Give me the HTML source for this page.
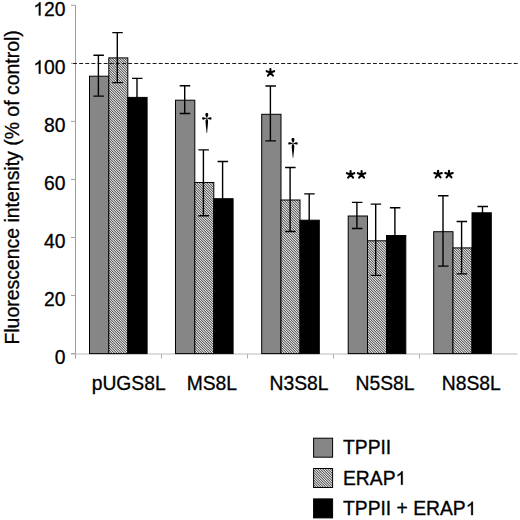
<!DOCTYPE html>
<html><head><meta charset="utf-8"><style>
html,body{margin:0;padding:0;background:#fff;width:520px;height:520px;overflow:hidden}
svg{display:block;font-family:"Liberation Sans",sans-serif}
text{stroke:#000;stroke-width:0.3px}
</style></head><body>
<svg width="520" height="520" viewBox="0 0 520 520">
<defs>
<linearGradient id="stemg" x1="0" y1="0" x2="0" y2="1"><stop offset="0" stop-color="#000"/><stop offset="0.55" stop-color="#000"/><stop offset="1" stop-color="#444"/></linearGradient>
<pattern id="hatch" patternUnits="userSpaceOnUse" width="5" height="5" shape-rendering="crispEdges"><rect x="0" y="0" width="1" height="1" fill="rgb(234,234,234)"/><rect x="1" y="0" width="1" height="1" fill="rgb(100,100,100)"/><rect x="2" y="0" width="1" height="1" fill="rgb(183,183,183)"/><rect x="3" y="0" width="1" height="1" fill="rgb(183,183,183)"/><rect x="4" y="0" width="1" height="1" fill="rgb(100,100,100)"/><rect x="0" y="1" width="1" height="1" fill="rgb(100,100,100)"/><rect x="1" y="1" width="1" height="1" fill="rgb(234,234,234)"/><rect x="2" y="1" width="1" height="1" fill="rgb(100,100,100)"/><rect x="3" y="1" width="1" height="1" fill="rgb(183,183,183)"/><rect x="4" y="1" width="1" height="1" fill="rgb(183,183,183)"/><rect x="0" y="2" width="1" height="1" fill="rgb(183,183,183)"/><rect x="1" y="2" width="1" height="1" fill="rgb(100,100,100)"/><rect x="2" y="2" width="1" height="1" fill="rgb(234,234,234)"/><rect x="3" y="2" width="1" height="1" fill="rgb(100,100,100)"/><rect x="4" y="2" width="1" height="1" fill="rgb(183,183,183)"/><rect x="0" y="3" width="1" height="1" fill="rgb(183,183,183)"/><rect x="1" y="3" width="1" height="1" fill="rgb(183,183,183)"/><rect x="2" y="3" width="1" height="1" fill="rgb(100,100,100)"/><rect x="3" y="3" width="1" height="1" fill="rgb(234,234,234)"/><rect x="4" y="3" width="1" height="1" fill="rgb(100,100,100)"/><rect x="0" y="4" width="1" height="1" fill="rgb(100,100,100)"/><rect x="1" y="4" width="1" height="1" fill="rgb(183,183,183)"/><rect x="2" y="4" width="1" height="1" fill="rgb(183,183,183)"/><rect x="3" y="4" width="1" height="1" fill="rgb(100,100,100)"/><rect x="4" y="4" width="1" height="1" fill="rgb(234,234,234)"/></pattern>
</defs>
<rect width="520" height="520" fill="#fff"/>

<line x1="75.5" y1="5" x2="75.5" y2="358.5" stroke="#a0a0a0" stroke-width="1"/>
<line x1="71" y1="354" x2="517.5" y2="354" stroke="#bbbbbb" stroke-width="1"/>
<line x1="161.5" y1="354" x2="161.5" y2="358.5" stroke="#b0b0b0" stroke-width="1"/>
<line x1="247.5" y1="354" x2="247.5" y2="358.5" stroke="#b0b0b0" stroke-width="1"/>
<line x1="333.5" y1="354" x2="333.5" y2="358.5" stroke="#b0b0b0" stroke-width="1"/>
<line x1="419.5" y1="354" x2="419.5" y2="358.5" stroke="#b0b0b0" stroke-width="1"/>
<line x1="71" y1="353.60" x2="75.5" y2="353.60" stroke="#a0a0a0" stroke-width="1"/>
<text class="t1" x="65.5" y="363.90" font-size="19.3" text-anchor="end" fill="#000">0</text>
<line x1="71" y1="295.55" x2="75.5" y2="295.55" stroke="#a0a0a0" stroke-width="1"/>
<text class="t1" x="65.5" y="305.85" font-size="19.3" text-anchor="end" fill="#000">20</text>
<line x1="71" y1="237.50" x2="75.5" y2="237.50" stroke="#a0a0a0" stroke-width="1"/>
<text class="t1" x="65.5" y="247.80" font-size="19.3" text-anchor="end" fill="#000">40</text>
<line x1="71" y1="179.45" x2="75.5" y2="179.45" stroke="#a0a0a0" stroke-width="1"/>
<text class="t1" x="65.5" y="189.75" font-size="19.3" text-anchor="end" fill="#000">60</text>
<line x1="71" y1="121.40" x2="75.5" y2="121.40" stroke="#a0a0a0" stroke-width="1"/>
<text class="t1" x="65.5" y="131.70" font-size="19.3" text-anchor="end" fill="#000">80</text>
<line x1="71" y1="63.35" x2="75.5" y2="63.35" stroke="#a0a0a0" stroke-width="1"/>
<text class="t1" x="65.5" y="73.65" font-size="19.3" text-anchor="end" fill="#000"><tspan fill="transparent" stroke="none">1</tspan>00</text>
<line x1="71" y1="5.30" x2="75.5" y2="5.30" stroke="#a0a0a0" stroke-width="1"/>
<text class="t1" x="65.5" y="15.60" font-size="19.3" text-anchor="end" fill="#000"><tspan fill="transparent" stroke="none">1</tspan>20</text>
<rect x="89.50" y="76.20" width="19.30" height="277.40" fill="#868686" stroke="#000" stroke-width="1"/>
<rect x="108.80" y="57.90" width="19.00" height="295.70" fill="url(#hatch)" stroke="#000" stroke-width="1"/>
<rect x="127.80" y="97.40" width="19.30" height="256.20" fill="#000" stroke="#000" stroke-width="1"/>
<rect x="175.50" y="100.20" width="19.30" height="253.40" fill="#868686" stroke="#000" stroke-width="1"/>
<rect x="194.80" y="182.50" width="19.00" height="171.10" fill="url(#hatch)" stroke="#000" stroke-width="1"/>
<rect x="213.80" y="198.70" width="19.30" height="154.90" fill="#000" stroke="#000" stroke-width="1"/>
<rect x="261.70" y="114.30" width="19.30" height="239.30" fill="#868686" stroke="#000" stroke-width="1"/>
<rect x="281.00" y="200.00" width="19.00" height="153.60" fill="url(#hatch)" stroke="#000" stroke-width="1"/>
<rect x="300.00" y="220.20" width="19.30" height="133.40" fill="#000" stroke="#000" stroke-width="1"/>
<rect x="348.20" y="216.00" width="19.30" height="137.60" fill="#868686" stroke="#000" stroke-width="1"/>
<rect x="367.50" y="240.80" width="19.00" height="112.80" fill="url(#hatch)" stroke="#000" stroke-width="1"/>
<rect x="386.50" y="235.50" width="19.30" height="118.10" fill="#000" stroke="#000" stroke-width="1"/>
<rect x="433.70" y="231.70" width="19.30" height="121.90" fill="#868686" stroke="#000" stroke-width="1"/>
<rect x="453.00" y="247.90" width="19.00" height="105.70" fill="url(#hatch)" stroke="#000" stroke-width="1"/>
<rect x="472.00" y="212.80" width="19.30" height="140.80" fill="#000" stroke="#000" stroke-width="1"/>
<line x1="73.08" y1="63.5" x2="518" y2="63.5" stroke="#1a1a1a" stroke-width="1.1" stroke-dasharray="3.9 2.22"/>
<path d="M98.40,55.25 V96.15 M93.40,55.25 H103.90 M93.40,96.15 H103.90" stroke="#000" stroke-width="1.4" fill="none"/>
<path d="M117.30,32.65 V82.65 M112.30,32.65 H122.80 M112.30,82.65 H122.80" stroke="#000" stroke-width="1.4" fill="none"/>
<path d="M137.00,78.35 V116.15 M132.00,78.35 H142.50 M132.00,116.15 H142.50" stroke="#000" stroke-width="1.4" fill="none"/>
<path d="M184.70,85.75 V113.45 M179.70,85.75 H190.20 M179.70,113.45 H190.20" stroke="#000" stroke-width="1.4" fill="none"/>
<path d="M203.40,149.85 V215.75 M198.40,149.85 H208.90 M198.40,215.75 H208.90" stroke="#000" stroke-width="1.4" fill="none"/>
<path d="M222.60,161.45 V235.65 M217.60,161.45 H228.10 M217.60,235.65 H228.10" stroke="#000" stroke-width="1.4" fill="none"/>
<path d="M270.40,86.05 V140.85 M265.40,86.05 H275.90 M265.40,140.85 H275.90" stroke="#000" stroke-width="1.4" fill="none"/>
<path d="M290.10,167.55 V231.55 M285.10,167.55 H295.60 M285.10,231.55 H295.60" stroke="#000" stroke-width="1.4" fill="none"/>
<path d="M309.20,193.85 V246.25 M304.20,193.85 H314.70 M304.20,246.25 H314.70" stroke="#000" stroke-width="1.4" fill="none"/>
<path d="M356.90,202.35 V228.55 M351.90,202.35 H362.40 M351.90,228.55 H362.40" stroke="#000" stroke-width="1.4" fill="none"/>
<path d="M375.70,204.15 V275.35 M370.70,204.15 H381.20 M370.70,275.35 H381.20" stroke="#000" stroke-width="1.4" fill="none"/>
<path d="M394.90,207.75 V262.95 M389.90,207.75 H400.40 M389.90,262.95 H400.40" stroke="#000" stroke-width="1.4" fill="none"/>
<path d="M443.00,195.75 V266.15 M438.00,195.75 H448.50 M438.00,266.15 H448.50" stroke="#000" stroke-width="1.4" fill="none"/>
<path d="M461.60,221.45 V273.85 M456.60,221.45 H467.10 M456.60,273.85 H467.10" stroke="#000" stroke-width="1.4" fill="none"/>
<path d="M482.50,206.55 V218.75 M477.50,206.55 H488.00 M477.50,218.75 H488.00" stroke="#000" stroke-width="1.4" fill="none"/>
<text x="128.70" y="389.8" font-size="19.3" text-anchor="middle">pUGS8L</text>
<text x="211.85" y="389.8" font-size="19.3" text-anchor="middle">MS8L</text>
<text x="299.00" y="389.8" font-size="19.3" text-anchor="middle">N3S8L</text>
<text x="385.10" y="389.8" font-size="19.3" text-anchor="middle">N5S8L</text>
<text x="471.35" y="389.8" font-size="19.3" text-anchor="middle">N8S8L</text>
<text transform="translate(18.8,187.4) rotate(-90)" font-size="19.45" text-anchor="middle">Fluorescence intensity (% of control)</text>
<path d="M270.40,72.50L270.40,69.00M270.40,72.50L266.65,71.20M270.40,72.50L274.15,71.20M270.40,72.50L267.95,75.60M270.40,72.50L272.85,75.60" stroke="#000" stroke-width="2.1" stroke-linecap="round" fill="none"/>
<path d="M350.60,174.50L350.60,171.00M350.60,174.50L346.85,173.20M350.60,174.50L354.35,173.20M350.60,174.50L348.15,177.60M350.60,174.50L353.05,177.60" stroke="#000" stroke-width="2.1" stroke-linecap="round" fill="none"/>
<path d="M361.60,174.50L361.60,171.00M361.60,174.50L357.85,173.20M361.60,174.50L365.35,173.20M361.60,174.50L359.15,177.60M361.60,174.50L364.05,177.60" stroke="#000" stroke-width="2.1" stroke-linecap="round" fill="none"/>
<path d="M438.10,174.30L438.10,170.80M438.10,174.30L434.35,173.00M438.10,174.30L441.85,173.00M438.10,174.30L435.65,177.40M438.10,174.30L440.55,177.40" stroke="#000" stroke-width="2.1" stroke-linecap="round" fill="none"/>
<path d="M449.00,174.30L449.00,170.80M449.00,174.30L445.25,173.00M449.00,174.30L452.75,173.00M449.00,174.30L446.55,177.40M449.00,174.30L451.45,177.40" stroke="#000" stroke-width="2.1" stroke-linecap="round" fill="none"/>
<g fill="#000"><path d="M206.80,113.10 C208.90,113.10 208.50,115.70 207.15,117.70 L206.45,117.70 C205.10,115.70 204.70,113.10 206.80,113.10Z"/><path d="M202.10,118.50 C202.00,116.70 204.20,117.30 206.00,118.20 L206.00,118.80 C204.20,119.70 202.00,120.30 202.10,118.50Z"/><path d="M211.50,118.50 C211.60,116.70 209.40,117.30 207.60,118.20 L207.60,118.80 C209.40,119.70 211.60,120.30 211.50,118.50Z"/><path d="M206.40,119.10 L207.20,119.10 C208.20,120.10 208.20,121.60 208.00,123.10 L207.15,132.90 L206.45,132.90 L205.60,123.10 C205.40,121.60 205.40,120.10 206.40,119.10Z" fill="url(#stemg)"/><circle cx="206.80" cy="118.50" r="0.9" fill="#555"/></g>
<g fill="#000"><path d="M293.00,138.00 C295.10,138.00 294.70,140.60 293.35,142.60 L292.65,142.60 C291.30,140.60 290.90,138.00 293.00,138.00Z"/><path d="M288.30,143.40 C288.20,141.60 290.40,142.20 292.20,143.10 L292.20,143.70 C290.40,144.60 288.20,145.20 288.30,143.40Z"/><path d="M297.70,143.40 C297.80,141.60 295.60,142.20 293.80,143.10 L293.80,143.70 C295.60,144.60 297.80,145.20 297.70,143.40Z"/><path d="M292.60,144.00 L293.40,144.00 C294.40,145.00 294.40,146.50 294.20,148.00 L293.35,157.80 L292.65,157.80 L291.80,148.00 C291.60,146.50 291.60,145.00 292.60,144.00Z" fill="url(#stemg)"/><circle cx="293.00" cy="143.40" r="0.9" fill="#555"/></g>
<rect x="313.6" y="438.20" width="19" height="19" fill="#868686" stroke="#000" stroke-width="1"/>
<text class="t1" x="343" y="454.40" font-size="19.3">TPPII</text>
<rect x="313.6" y="468.50" width="19" height="19" fill="url(#hatch)" stroke="#000" stroke-width="1"/>
<text class="t1" x="343" y="484.70" font-size="19.3">ERAP<tspan fill="transparent" stroke="none">1</tspan></text>
<rect x="313.6" y="498.90" width="19" height="19" fill="#000" stroke="#000" stroke-width="1"/>
<text class="t1" x="343" y="515.10" font-size="19.3">TPPII + ERAP<tspan fill="transparent" stroke="none">1</tspan></text>
<path d="M40.50,73.65L38.81,73.65L38.81,63.17Q38.02,63.89 37.03,64.44Q36.05,65.00 35.40,65.26L35.40,63.67Q36.61,63.14 37.74,62.27Q38.87,61.40 39.38,60.25L40.50,60.25Z" fill="#000" stroke="#000" stroke-width="0.3"/>
<path d="M40.50,15.60L38.81,15.60L38.81,5.12Q38.02,5.84 37.03,6.39Q36.05,6.95 35.40,7.21L35.40,5.62Q36.61,5.09 37.74,4.22Q38.87,3.35 39.38,2.20L40.50,2.20Z" fill="#000" stroke="#000" stroke-width="0.3"/>
<path d="M402.71,484.70L401.01,484.70L401.01,474.22Q400.23,474.94 399.24,475.49Q398.25,476.05 397.61,476.31L397.61,474.72Q398.81,474.19 399.94,473.32Q401.08,472.45 401.58,471.30L402.71,471.30Z" fill="#000" stroke="#000" stroke-width="0.3"/>
<path d="M472.89,515.10L471.20,515.10L471.20,504.62Q470.42,505.34 469.43,505.89Q468.44,506.45 467.80,506.71L467.80,505.12Q469.00,504.59 470.13,503.72Q471.26,502.85 471.77,501.70L472.89,501.70Z" fill="#000" stroke="#000" stroke-width="0.3"/>
</svg></body></html>
